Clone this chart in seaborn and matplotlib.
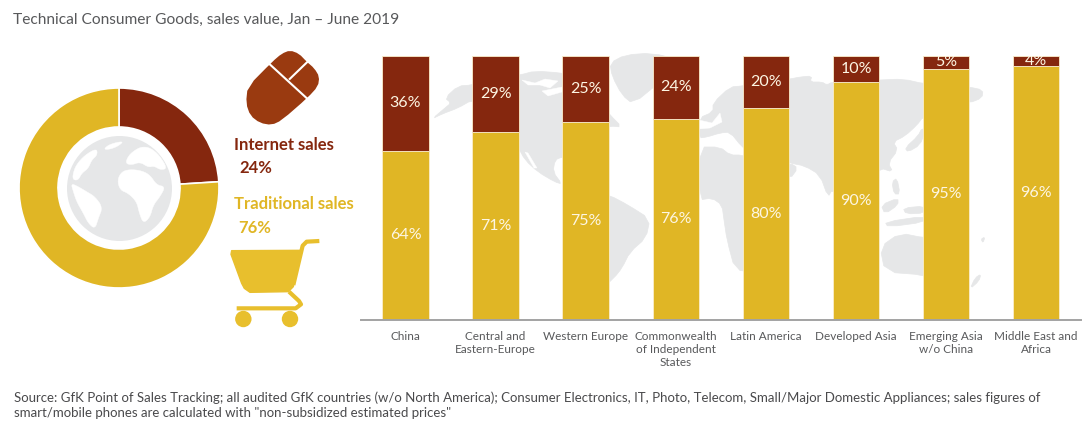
"""
plot.py
Online vs traditional sales of technical consumer goods: donut + stacked bars by region.
"""

import matplotlib
matplotlib.use("Agg")
import matplotlib.pyplot as plt
from matplotlib.patches import Circle, Polygon
import seaborn as sns

# ---- Data ----
regions = ["China", "Central and\nEastern-Europe", "Western Europe",
           "Commonwealth\nof Independent\nStates", "Latin America", "Developed Asia",
           "Emerging Asia\nw/o China", "Middle East and\nAfrica"]
traditional = [64, 71, 75, 76, 80, 90, 95, 96]
internet = [36, 29, 25, 24, 20, 10, 5, 4]
total_shares = [24, 76]

# ---- Config ----
W, H = 1091, 432
RED = "#85270e"
YELLOW = "#e0b625"
MOUSE = "#9a3a10"
CART = "#e8bf2d"
GREY = "#e6e7e8"
TEXT = "#58595b"
FONT = "Lato"

sns.set_theme(style="white")
plt.rcParams["font.family"] = [FONT, "Open Sans", "DejaVu Sans"]

# Background map outlines, in image pixels (only the bits between bars show)
WORLD = [
    # North America
    [(445, 98), (458, 86), (472, 85), (490, 80), (520, 75), (535, 71), (562, 73), (590, 78),
     (598, 100), (610, 115), (622, 127), (610, 126), (598, 130), (590, 150), (585, 165),
     (570, 158), (562, 157), (555, 160), (553, 172), (562, 184), (555, 182), (538, 172),
     (525, 160), (518, 147), (512, 120), (490, 102), (472, 100), (458, 108), (442, 114),
     (432, 119), (445, 108), (451, 103)],
    # South America
    [(585, 190), (609, 195), (628, 205), (650, 219), (646, 238), (630, 252), (622, 268),
     (614, 278), (600, 290), (590, 260), (575, 220)],
    # Greenland
    [(610, 63), (625, 55), (652, 53), (680, 60), (660, 82), (633, 104), (622, 95), (612, 76)],
    # Eurasia
    [(699, 118), (713, 112), (713, 103), (730, 87), (742, 86), (790, 79), (800, 77), (812, 76),
     (810, 82), (822, 82), (827, 85), (832, 82), (880, 80), (903, 79), (925, 84), (969, 87),
     (983, 90), (982, 98), (969, 103), (955, 100), (923, 117), (917, 125), (905, 136),
     (893, 142), (898, 150), (888, 163), (893, 172), (880, 168), (872, 180), (868, 190),
     (832, 190), (828, 197), (820, 175), (805, 166), (790, 163), (750, 152), (742, 147),
     (730, 132), (720, 133), (707, 137), (699, 138)],
    # Arabia
    [(790, 163), (798, 168), (790, 179), (775, 170)],
    # Africa
    [(699, 147), (720, 147), (730, 155), (742, 155), (780, 165), (790, 178), (775, 215),
     (755, 272), (735, 270), (727, 240), (724, 220), (722, 205), (712, 198), (699, 200)],
    # Japan
    [(905, 148), (918, 136), (922, 128), (925, 132), (920, 145), (908, 152)],
    # Indonesia and the Philippines
    [(881, 205), (898, 198), (898, 205), (885, 214)],
    [(892, 182), (897, 178), (900, 194), (894, 194)],
    [(885, 222), (925, 216), (925, 222), (888, 227)],
    [(903, 208), (925, 206), (925, 213), (906, 214)],
    # Australia
    [(880, 247), (900, 233), (925, 238), (965, 240), (955, 285), (925, 275), (885, 272)],
    # New Zealand
    [(975, 278), (981, 274), (979, 281), (970, 289)],
    [(981, 239), (985, 237), (983, 243)],
]
# Channels in the Canadian arctic, the Baltic and Baja
WORLD_WHITE = [
    [(522, 80), (535, 83), (545, 79), (558, 81), (550, 88), (540, 85), (528, 85)],
    [(542, 91), (562, 87), (562, 92), (548, 96)],
    [(699, 120), (712, 123), (720, 113), (722, 122), (710, 128), (699, 129)],
    [(525, 152), (528, 153), (537, 168), (534, 168)],
]

# Globe continents, as (x, y) in the zoomed globe crop
GLOBE_LAND = [
    [(196, 100), (206, 76), (228, 58), (248, 50), (272, 54), (298, 76), (322, 115), (302, 120),
     (282, 108), (265, 112), (240, 96), (215, 105)],
    [(172, 150), (185, 125), (210, 118), (245, 122), (270, 135), (290, 165), (316, 170),
     (300, 200), (280, 225), (270, 262), (250, 280), (238, 250), (230, 215), (205, 190),
     (180, 180)],
    [(33, 160), (55, 170), (80, 185), (105, 200), (128, 232), (115, 265), (105, 297), (85, 280),
     (70, 250), (50, 215), (40, 185)],
    [(38, 135), (48, 105), (75, 75), (110, 55), (112, 75), (95, 90), (85, 115), (65, 130),
     (55, 150), (40, 150)],
    [(130, 58), (150, 42), (192, 33), (175, 48), (150, 58)],
]

# Mouse silhouette and the two button seams, in the zoomed icon crop
MOUSE_BODY = [(142, 50), (170, 26), (195, 16), (222, 26), (245, 50), (268, 70), (283, 95),
              (279, 124), (248, 158), (170, 226), (140, 240), (105, 234), (76, 212), (63, 175),
              (68, 125)]
MOUSE_SEAMS = [[(130, 54), (250, 164)], [(192, 104), (250, 48)]]

CART_BASKET = [(18, 58), (20, 47), (225, 46), (205, 155), (190, 170), (75, 172), (58, 160),
               (50, 145)]
CART_HANDLE = [(205, 150), (233, 32), (245, 20), (283, 18)]
CART_FRAME = [(192, 170), (222, 198), (228, 208), (212, 220), (35, 220)]
CART_WHEELS = [(55, 252), (195, 252)]


def axes_at(fig, left, top, right, bottom):
    """Axes placed by image pixels, y measured from the top."""
    return fig.add_axes([left / W, 1 - bottom / H, (right - left) / W, (bottom - top) / H])


def soften(points, rounds=2):
    """Corner cutting so the hand-traced outlines don't look like shards."""
    for _ in range(rounds):
        out = []
        for i, (x0, y0) in enumerate(points):
            x1, y1 = points[(i + 1) % len(points)]
            out.append((0.75 * x0 + 0.25 * x1, 0.75 * y0 + 0.25 * y1))
            out.append((0.25 * x0 + 0.75 * x1, 0.25 * y0 + 0.75 * y1))
        points = out
    return points


def draw_decoration(bg):
    for shape in WORLD:
        bg.add_patch(Polygon(soften(shape, 1), closed=True, fc=GREY, ec=GREY, lw=0.5))
    for shape in WORLD_WHITE:
        bg.add_patch(Polygon(shape, closed=True, fc="white", ec="white", lw=0.3))

    # Globe in the donut hole
    bg.add_patch(Circle((119.5, 188.5), 52.5, fc=GREY, ec="none"))
    for shape in GLOBE_LAND:
        pts = [(60 + x / 3, 130 + y / 3) for x, y in shape]
        bg.add_patch(Polygon(soften(pts), closed=True, fc="white", ec="white", lw=0.3))

    # Mouse icon
    def mouse(p):
        return 225 + p[0] / 3, 45 + p[1] / 3

    bg.add_patch(Polygon(soften([mouse(p) for p in MOUSE_BODY], 1), closed=True, fc=MOUSE, ec="none"))
    for seam in MOUSE_SEAMS:
        xs, ys = zip(*[mouse(p) for p in seam])
        bg.plot(xs, ys, color="white", lw=1.5, solid_capstyle="butt")

    # Cart icon
    def cart(p):
        return 225 + p[0] / 3, 235 + p[1] / 3

    bg.add_patch(Polygon([cart(p) for p in CART_BASKET], closed=True, fc=CART, ec=CART, lw=1,
                         joinstyle="round"))
    for line in (CART_HANDLE, CART_FRAME):
        xs, ys = zip(*[cart(p) for p in line])
        bg.plot(xs, ys, color=CART, lw=3, solid_joinstyle="round", solid_capstyle="butt")
    for wheel in CART_WHEELS:
        bg.add_patch(Circle(cart(wheel), 8.2, fc=CART, ec="none"))


def main():
    fig = plt.figure(figsize=(W / 100, H / 100), dpi=100, facecolor="white")

    # ---- Pixel layer for map, icons and free text ----
    bg = fig.add_axes([0, 0, 1, 1], zorder=0)
    bg.set_xlim(0, W)
    bg.set_ylim(H, 0)
    bg.axis("off")
    draw_decoration(bg)

    bg.text(13, 20, "Technical Consumer Goods, sales value, Jan – June 2019",
            fontsize=11.2, color=TEXT, va="center")
    bg.text(234, 145, "Internet sales", fontsize=12, fontweight="bold", color=RED, va="center")
    bg.text(239, 168, f"{total_shares[0]}%", fontsize=12, fontweight="bold", color=RED, va="center")
    bg.text(234, 204, "Traditional sales", fontsize=12, fontweight="bold", color=YELLOW, va="center")
    bg.text(238, 228, f"{total_shares[1]}%", fontsize=12, fontweight="bold", color=YELLOW, va="center")
    bg.text(14, 405,
            "Source: GfK Point of Sales Tracking; all audited GfK countries (w/o North America); "
            "Consumer Electronics, IT, Photo, Telecom, Small/Major Domestic Appliances; sales figures of\n"
            "smart/mobile phones are calculated with \"non-subsidized estimated prices\"",
            fontsize=9.5, color="#4a4a4c", va="center", linespacing=1.3)

    # ---- Donut ----
    donut = axes_at(fig, 19, 88, 219, 288)
    donut.set_zorder(1)
    donut.pie(total_shares, colors=[RED, YELLOW], startangle=90, counterclock=False,
              radius=1, wedgeprops={"width": 0.39, "edgecolor": "white", "linewidth": 1.2})
    donut.set_xlim(-1, 1)
    donut.set_ylim(-1, 1)
    donut.patch.set_alpha(0)

    # ---- Stacked bars ----
    ax = axes_at(fig, 361, 55.7, 1081, 319.5)
    ax.set_zorder(2)
    ax.patch.set_alpha(0)
    sns.barplot(x=regions, y=traditional, color=YELLOW, saturation=1, width=0.516, ax=ax,
                edgecolor="#fbeecb", linewidth=0.6)
    sns.barplot(x=regions, y=internet, bottom=traditional, color=RED, saturation=1, width=0.516,
                ax=ax, edgecolor="#fbeecb", linewidth=0.6)
    ax.set_xlim(-0.494, 7.497)
    ax.set_ylim(0, 100)
    ax.set_xlabel("")
    ax.set_ylabel("")
    ax.set_yticks([])
    ax.tick_params(axis="x", length=0, pad=8, labelsize=8.5, labelcolor=TEXT)
    plt.setp(ax.get_xticklabels(), linespacing=1.27)
    sns.despine(ax=ax, left=True)
    ax.spines["bottom"].set_color("#a3a3a3")
    ax.spines["bottom"].set_linewidth(1.4)

    for container, values in zip(ax.containers, (traditional, internet)):
        ax.bar_label(container, labels=[f"{v}%" for v in values], label_type="center",
                     color="#fdf6e3", fontsize=11.5, clip_on=True)

    plt.savefig("out.png", dpi=100)


if __name__ == "__main__":
    main()
